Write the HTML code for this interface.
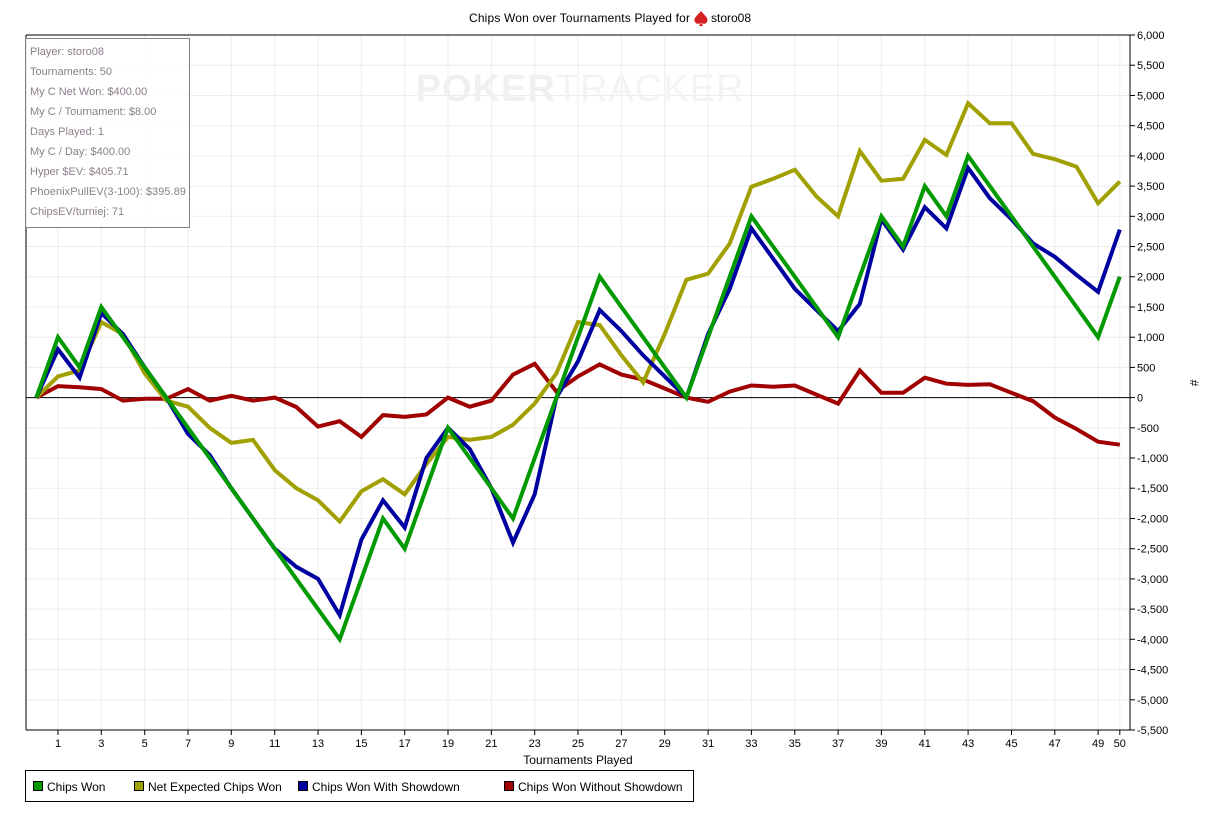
<!DOCTYPE html>
<html><head><meta charset="utf-8"><style>
html,body{margin:0;padding:0;background:#fff;width:1212px;height:819px;overflow:hidden}
svg{display:block;font-family:"Liberation Sans",sans-serif}
</style></head><body>
<svg id="s" width="1212" height="819" xmlns="http://www.w3.org/2000/svg">
<rect width="1212" height="819" fill="#fff"/>
<g id="grid"></g>
<text x="580" y="101" font-size="38" font-weight="bold" fill="#f0f0f0" text-anchor="middle" letter-spacing="1">POKER<tspan font-weight="normal" fill="#f3f3f3">TRACKER</tspan></text>
<g id="series"></g>
<line x1="26" y1="35" x2="1130" y2="35" stroke="#000" stroke-width="1"/>
<line x1="26" y1="35" x2="26" y2="730" stroke="#000" stroke-width="1"/>
<line x1="1130" y1="35" x2="1130" y2="730" stroke="#000" stroke-width="1"/>
<line x1="26" y1="730" x2="1130" y2="730" stroke="#000" stroke-width="1"/>
<g id="ticks" font-size="11" fill="#000"></g>
<text x="469" y="22" font-size="12" textLength="221">Chips Won over Tournaments Played for</text>
<path d="M701 11 C697 16 693 18 695 22 C697 25 700 24 701 22 L699 26 L703 26 L701 22 C702 24 705 25 707 22 C709 18 705 16 701 11Z" fill="#d42020"/>
<text x="711" y="22" font-size="12">storo08</text>
<text x="578" y="764" font-size="12" text-anchor="middle">Tournaments Played</text>
<text x="1190" y="383" font-size="12" text-anchor="middle" transform="rotate(90 1190 383)">#</text>
<rect x="25.5" y="38.5" width="164" height="189" fill="#fff" fill-opacity="0.85" stroke="#808080"/>
<g font-size="11" fill="#8a7f8a">
<text x="30" y="55">Player: storo08</text>
<text x="30" y="75">Tournaments: 50</text>
<text x="30" y="95">My C Net Won: $400.00</text>
<text x="30" y="115">My C / Tournament: $8.00</text>
<text x="30" y="135">Days Played: 1</text>
<text x="30" y="155">My C / Day: $400.00</text>
<text x="30" y="175">Hyper $EV: $405.71</text>
<text x="30" y="195" textLength="156">PhoenixPullEV(3-100): $395.89</text>
<text x="30" y="215">ChipsEV/turniej: 71</text>
</g>
<rect x="25.5" y="770.5" width="668" height="31" fill="#fff" stroke="#000"/>
<g font-size="12">
<rect x="33.5" y="781.5" width="9" height="9" fill="#009900" stroke="#000"/><text x="47" y="791">Chips Won</text>
<rect x="134.5" y="781.5" width="9" height="9" fill="#a0a000" stroke="#000"/><text x="148" y="791">Net Expected Chips Won</text>
<rect x="298.5" y="781.5" width="9" height="9" fill="#0000a0" stroke="#000"/><text x="312" y="791">Chips Won With Showdown</text>
<rect x="504.5" y="781.5" width="9" height="9" fill="#a00000" stroke="#000"/><text x="518" y="791">Chips Won Without Showdown</text>
</g>
</svg>
<script>
var NS="http://www.w3.org/2000/svg";
function X(i){return 36.3+21.67*i}
function Y(v){return 397.6-v*0.06043}
function el(p,t,a,txt){var e=document.createElementNS(NS,t);for(var k in a)e.setAttribute(k,a[k]);if(txt!=null)e.textContent=txt;p.appendChild(e);return e}
var g=document.getElementById('grid'),tk=document.getElementById('ticks');
var xs=[];for(var i=1;i<=49;i+=2)xs.push(i);xs.push(50);
xs.forEach(function(i){var x=X(i).toFixed(1);el(g,'line',{x1:x,y1:35,x2:x,y2:730,stroke:'#ececec'});
el(tk,'line',{x1:x,y1:730,x2:x,y2:735,stroke:'#000'});el(tk,'text',{x:x,y:747,'text-anchor':'middle'},String(i));});
for(var v=-5500;v<=6000;v+=500){var y=Y(v).toFixed(1);el(g,'line',{x1:26,y1:y,x2:1130,y2:y,stroke:'#ececec'});
el(tk,'line',{x1:1130,y1:y,x2:1135,y2:y,stroke:'#000'});
var s=(v<0?'-':'')+Math.abs(v).toLocaleString('en-US');el(tk,'text',{x:1137,y:(+y+4).toFixed(1)},s);}
el(g,'line',{x1:26,y1:Y(0),x2:1130,y2:Y(0),stroke:'#000'});
var green=[0,1000,500,1500,1000,500,0,-500,-1000,-1500,-2000,-2500,-3000,-3500,-4000,-3000,-2000,-2500,-1500,-500,-1000,-1500,-2000,-1000,0,1000,2000,1500,1000,500,0,1000,2000,3000,2500,2000,1500,1000,2000,3000,2500,3500,3000,4000,3500,3000,2500,2000,1500,1000,2000];
var blue=[0,800,330,1400,1050,500,0,-600,-950,-1500,-2000,-2500,-2800,-3000,-3600,-2350,-1700,-2150,-1000,-500,-850,-1500,-2400,-1600,0,600,1450,1100,700,350,0,1050,1800,2800,2300,1800,1450,1100,1550,2950,2450,3150,2800,3800,3300,2950,2550,2330,2030,1750,2780];
var olive=[0,350,450,1250,1050,400,-50,-150,-500,-750,-700,-1200,-1500,-1700,-2050,-1550,-1350,-1600,-1100,-650,-700,-650,-450,-100,400,1250,1200,700,250,1050,1950,2050,2550,3490,3620,3770,3330,3000,4080,3590,3620,4265,4017,4870,4540,4540,4033,3945,3823,3216,3575];
var red=[0,190,170,140,-50,-20,-20,140,-50,30,-50,0,-155,-480,-390,-650,-290,-320,-280,0,-150,-50,380,560,100,350,550,380,300,150,0,-70,100,200,180,200,50,-100,450,80,80,330,230,210,220,80,-60,-330,-520,-730,-780];
var sg=document.getElementById('series');
[[red,'#a00000'],[olive,'#a0a000'],[blue,'#0000a0'],[green,'#009900']].forEach(function(p){
var pts=p[0].map(function(v,i){return X(i).toFixed(1)+','+Y(v).toFixed(1)}).join(' ');
el(sg,'polyline',{points:pts,fill:'none',stroke:p[1],'stroke-width':4,'stroke-linejoin':'miter','stroke-miterlimit':3});});
</script>
</body></html>
